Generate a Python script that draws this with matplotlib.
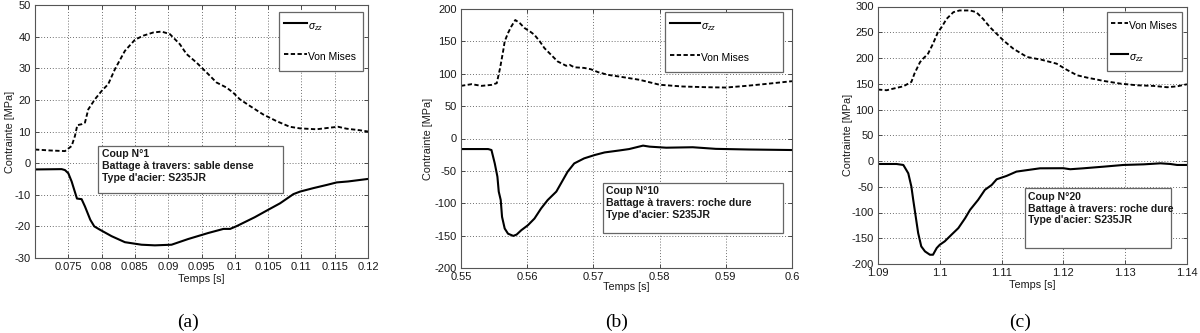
import matplotlib
matplotlib.use("Agg")
import matplotlib.pyplot as plt
from matplotlib.patches import Rectangle

plt.rcParams["font.family"] = ["Liberation Sans", "DejaVu Sans"]
plt.rcParams["axes.unicode_minus"] = False
plt.rcParams["mathtext.fontset"] = "custom"
plt.rcParams["mathtext.rm"] = "Liberation Sans"
plt.rcParams["mathtext.it"] = "Liberation Sans:italic"

# ---- Coup N°1 (sable dense) ----
t_a_vm = [0.0700, 0.0723, 0.0745, 0.0755, 0.0760, 0.07635, 0.0770, 0.0775, 0.0780,
          0.0790, 0.0800, 0.0810, 0.0820, 0.0835, 0.0850, 0.08625, 0.08775, 0.0890,
          0.09025, 0.09175, 0.09275, 0.09425, 0.09575, 0.09725, 0.09875, 0.09975,
          0.10075, 0.10225, 0.10425, 0.10625, 0.10825, 0.10975, 0.11225, 0.11425,
          0.1155, 0.11675, 0.11875, 0.1200]
vm_a = [4.3, 4.0, 3.8, 5.4, 8.6, 12.0, 12.3, 12.8, 17.0, 20.2, 22.8, 25.0, 29.7, 35.5,
        39.0, 40.3, 41.3, 41.6, 40.8, 37.6, 34.5, 31.8, 28.7, 25.5, 23.9, 22.3, 20.2,
        18.1, 15.4, 13.3, 11.5, 11.0, 10.7, 11.2, 11.5, 10.9, 10.4, 10.0]
t_a_s = [0.0700, 0.0740, 0.0745, 0.0750, 0.0755, 0.0763, 0.0770, 0.0775, 0.0783, 0.0789,
         0.0797, 0.0815, 0.0835, 0.0860, 0.0880, 0.0905, 0.0930, 0.0960, 0.0983, 0.0993,
         0.1003, 0.1030, 0.1048, 0.1068, 0.1088, 0.1098, 0.1118, 0.1138, 0.1153, 0.1170,
         0.1200]
s_a = [-2.0, -1.9, -2.2, -3.2, -5.8, -11.2, -11.4, -13.7, -17.9, -20.0, -21.0, -23.1,
       -25.0, -25.8, -26.0, -25.8, -24.0, -22.1, -20.8, -20.8, -19.9, -17.1, -15.0,
       -12.7, -9.8, -9.0, -7.9, -6.9, -6.1, -5.8, -5.0]

# ---- Coup N°10 (roche dure) ----
t_b_vm = [0.5500, 0.5516, 0.5531, 0.5546, 0.5554, 0.5559, 0.5564, 0.5566, 0.5571,
          0.5576, 0.5582, 0.5589, 0.5596, 0.5606, 0.5611, 0.5619, 0.5626, 0.5636,
          0.5646, 0.5659, 0.5664, 0.5671, 0.5686, 0.5696, 0.5707, 0.5722, 0.5740,
          0.5770, 0.5800, 0.5835, 0.5871, 0.5900, 0.5931, 0.5962, 0.6000]
vm_b = [81.3, 83.9, 81.3, 82.8, 85.4, 108.6, 137.0, 150.0, 162.8, 173.0, 183.0, 178.0,
        170.6, 164.0, 160.0, 150.0, 139.6, 129.3, 119.0, 112.3, 113.8, 110.0, 109.0,
        107.0, 102.5, 98.3, 95.5, 90.6, 83.0, 80.3, 79.2, 78.7, 81.3, 84.4, 88.5]
t_b_s = [0.5500, 0.5541, 0.5546, 0.5551, 0.5555, 0.5557, 0.5560, 0.5562, 0.5566, 0.5571,
         0.5579, 0.5584, 0.5591, 0.5601, 0.5611, 0.5621, 0.5631, 0.5644, 0.5651, 0.5661,
         0.5671, 0.5686, 0.5702, 0.5717, 0.5739, 0.5754, 0.5775, 0.5785, 0.5810, 0.5850,
         0.5885, 0.5935, 0.6000]
s_b = [-16.3, -16.3, -17.8, -38.5, -59.0, -82.0, -95.0, -121.0, -139.0, -147.0, -150.4,
       -148.4, -141.7, -134.0, -123.6, -108.0, -95.0, -82.0, -69.4, -51.4, -38.5, -30.7,
       -25.5, -21.5, -18.5, -16.3, -11.0, -12.6, -14.2, -13.5, -16.0, -17.0, -17.8]

# ---- Coup N°20 (roche dure) ----
t_c_vm = [1.0900, 1.0914, 1.0930, 1.0941, 1.0954, 1.0959, 1.0968, 1.0973, 1.0981,
          1.0989, 1.0997, 1.1003, 1.1011, 1.1022, 1.1032, 1.1049, 1.1059, 1.1070,
          1.1081, 1.1092, 1.1103, 1.1119, 1.1141, 1.1165, 1.1189, 1.1205, 1.1222,
          1.1238, 1.1265, 1.1292, 1.1319, 1.1346, 1.1368, 1.1384, 1.1400]
vm_c = [138.7, 137.4, 142.0, 145.0, 153.5, 169.7, 192.0, 198.7, 208.4, 227.7, 250.3,
        260.0, 276.0, 289.0, 292.3, 292.3, 289.0, 276.0, 260.0, 247.0, 234.0, 218.0,
        202.0, 196.5, 189.0, 177.4, 166.5, 162.0, 155.5, 150.3, 147.0, 145.8, 143.2,
        145.0, 149.0]
t_c_s = [1.0900, 1.0930, 1.0941, 1.0949, 1.0954, 1.0957, 1.0961, 1.0965, 1.0970, 1.0976,
         1.0984, 1.0989, 1.0995, 1.1000, 1.1008, 1.1019, 1.1030, 1.1041, 1.1049, 1.1062,
         1.1073, 1.1084, 1.1092, 1.1108, 1.1124, 1.1162, 1.1200, 1.1211, 1.1232, 1.1265,
         1.1297, 1.1330, 1.1357, 1.1373, 1.1384, 1.1400]
s_c = [-5.8, -5.8, -7.7, -23.9, -49.7, -75.5, -107.7, -140.0, -165.8, -175.5, -182.0,
       -182.0, -169.0, -162.6, -156.0, -143.0, -130.3, -111.0, -94.8, -75.5, -56.0, -46.5,
       -35.5, -29.0, -20.6, -14.2, -14.0, -16.0, -14.2, -11.0, -7.7, -6.5, -4.5, -5.8,
       -7.7, -7.7]

xticks_a = [0.075, 0.08, 0.085, 0.09, 0.095, 0.1, 0.105, 0.11, 0.115, 0.12]
yticks_a = [-30, -20, -10, 0, 10, 20, 30, 40, 50]
xticks_b = [0.55, 0.56, 0.57, 0.58, 0.59, 0.6]
yticks_b = [-200, -150, -100, -50, 0, 50, 100, 150, 200]
xticks_c = [1.09, 1.1, 1.11, 1.12, 1.13, 1.14]
yticks_c = [-200, -150, -100, -50, 0, 50, 100, 150, 200, 250, 300]

notes = ["Coup N°1\nBattage à travers: sable dense\nType d'acier: S235JR",
         "Coup N°10\nBattage à travers: roche dure\nType d'acier: S235JR",
         "Coup N°20\nBattage à travers: roche dure\nType d'acier: S235JR"]
captions = ["(a)", "(b)", "(c)"]
sigma_label = r"$\sigma_{zz}$"
vm_label = "Von Mises"

W, H = 1200, 333
fig = plt.figure(figsize=(W / 100, H / 100), dpi=100)


def px_axes(left, right, top, bottom):
    return fig.add_axes([left / W, 1 - bottom / H, (right - left) / W, (bottom - top) / H])


panels = [
    dict(box=(35, 368, 5, 258), xlim=(0.0700, 0.12), ylim=(-30, 50),
         xt=xticks_a, yt=yticks_a, vm=(t_a_vm, vm_a), s=(t_a_s, s_a), vm_first=False,
         leg=(279.3, 362.7, 11.7, 75.0), hl=2.2, note=(98.3, 283.3, 145.7, 192.7),
         cap_xy=(188, 322), ylab_x=10, xlab_y=279),
    dict(box=(461, 792, 9, 268), xlim=(0.55, 0.60), ylim=(-200, 200),
         xt=xticks_b, yt=yticks_b, vm=(t_b_vm, vm_b), s=(t_b_s, s_b), vm_first=False,
         leg=(665.0, 782.7, 12.3, 78.3), hl=2.9, note=(602.7, 782.7, 182.7, 232.7),
         cap_xy=(617, 322), ylab_x=428, xlab_y=287),
    dict(box=(878, 1187, 6.5, 264), xlim=(1.09, 1.14), ylim=(-200, 300),
         xt=xticks_c, yt=yticks_c, vm=(t_c_vm, vm_c), s=(t_c_s, s_c), vm_first=True,
         leg=(1106.7, 1181.7, 11.7, 71.7), hl=1.6, note=(1025.0, 1171.0, 188.3, 248.3),
         cap_xy=(1020, 322), ylab_x=848, xlab_y=285.5),
]

ink = "#1a1a1a"
for p, note, cap in zip(panels, notes, captions):
    l, r, t, b = p["box"]
    ax = px_axes(l, r, t, b)
    ax.set_xlim(*p["xlim"])
    ax.set_ylim(*p["ylim"])
    ax.set_xticks(p["xt"])
    ax.set_xticklabels(["%g" % v for v in p["xt"]])
    ax.set_yticks(p["yt"])
    ax.set_yticklabels(["%g" % v for v in p["yt"]])
    ax.tick_params(direction="in", length=3, width=0.6, labelsize=8,
                   colors="#333333", labelcolor=ink, pad=3,
                   top=True, right=True)
    ax.grid(True, color="#5a5a5a", linewidth=0.65, dashes=(1, 2.2))
    for sp in ax.spines.values():
        sp.set_color("#555555")
        sp.set_linewidth(0.8)

    l_s, = ax.plot(*p["s"], color="black", lw=1.5, solid_joinstyle="round")
    l_vm, = ax.plot(*p["vm"], color="black", lw=1.35, dashes=(2.3, 1.3))

    # legend box placed in pixel coordinates of the figure
    gl, gr, gt, gb = p["leg"]
    handles = [l_vm, l_s] if p["vm_first"] else [l_s, l_vm]
    labels = [vm_label, sigma_label] if p["vm_first"] else [sigma_label, vm_label]
    fx0, fx1 = gl / W, gr / W
    fy0, fy1 = 1 - gb / H, 1 - gt / H
    leg = ax.legend(handles, labels, loc="upper left",
                    bbox_to_anchor=(fx0, fy0, fx1 - fx0, fy1 - fy0),
                    bbox_transform=fig.transFigure, mode="expand",
                    borderaxespad=0, fontsize=7.5, frameon=True, fancybox=False,
                    edgecolor="#666666", framealpha=1, handlelength=p["hl"],
                    handletextpad=0.12, handleheight=2.4, labelspacing=1.2,
                    borderpad=0.45)
    leg.get_frame().set_linewidth(0.9)

    # annotation box
    nl, nr, nt, nb = p["note"]
    fig.patches.append(Rectangle((nl / W, 1 - nb / H), (nr - nl) / W, (nb - nt) / H,
                                 transform=fig.transFigure, facecolor="white",
                                 edgecolor="#666666", linewidth=0.9, zorder=5))
    fig.text((nl + 3.5) / W, 1 - (nt + 3.5) / H, note, ha="left", va="top",
             fontsize=7.6, fontweight="bold", color=ink, linespacing=1.22, zorder=6)

    fig.text(p["ylab_x"] / W, 1 - ((t + b) / 2) / H, "Contrainte [MPa]", rotation=90,
             ha="center", va="center", fontsize=7.8, color=ink)
    fig.text(((l + r) / 2) / W, 1 - p["xlab_y"] / H, "Temps [s]", ha="center",
             va="center", fontsize=7.8, color=ink)
    cx, cy = p["cap_xy"]
    fig.text(cx / W, 1 - cy / H, cap, ha="center", va="center",
             fontsize=14, family=["Liberation Serif", "DejaVu Serif"], color="black")

fig.savefig("out.png", dpi=100, facecolor="white")
